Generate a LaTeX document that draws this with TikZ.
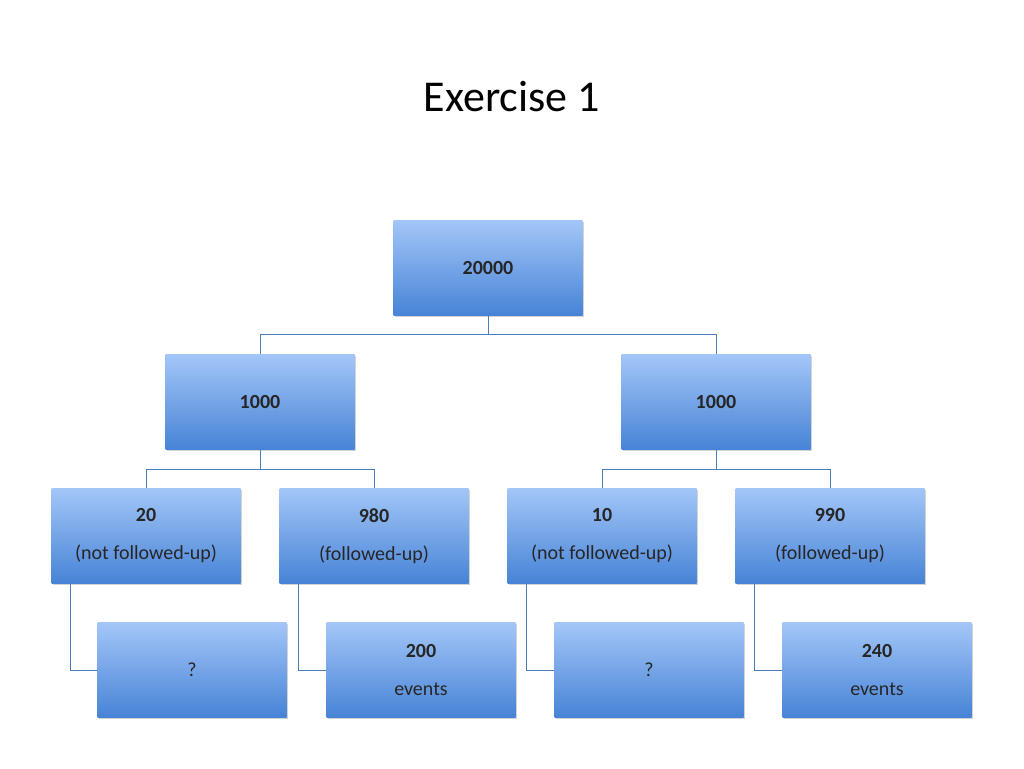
\documentclass[tikz,border=0pt]{standalone}
\usepackage{fontspec}
\setmainfont{Carlito}
\usetikzlibrary{shadows}
\definecolor{btop}{HTML}{A3C6F8}
\definecolor{bbot}{HTML}{4783D6}
\definecolor{lnk}{HTML}{4A7EBB}
\tikzset{
 box/.style={minimum width=189pt,minimum height=95pt,top color=btop,bottom color=bbot,draw=none,
  drop shadow={shadow xshift=1.5pt,shadow yshift=-1.5pt,opacity=0.35},align=center,font=\fontsize{20}{38}\selectfont,text=black!85},
 conn/.style={draw=lnk,line width=0.9pt}
}
\begin{document}
\begin{tikzpicture}[x=1pt,y=-1pt]
\useasboundingbox (0,0) rectangle (1024,768);
\node[font=\fontsize{44}{50}\selectfont] (title) at (512,97) {Exercise 1};
\node[box,font=\fontsize{20}{38}\selectfont\bfseries] (r) at (488,268) {20000};
\node[box,font=\fontsize{20}{38}\selectfont\bfseries] (a) at (260,402) {1000};
\node[box,font=\fontsize{20}{38}\selectfont\bfseries] (b) at (716,402) {1000};
\node[box] (a1) at (146,536) {\textbf{20}\\(not followed-up)};
\node[box] (a2) at (374,536) {\textbf{980}\\(followed-up)};
\node[box] (b1) at (602,536) {\textbf{10}\\(not followed-up)};
\node[box] (b2) at (830,536) {\textbf{990}\\(followed-up)};
\node[box] (c1) at (192,670) {?};
\node[box] (c2) at (421,670) {\textbf{200}\\events};
\node[box] (c3) at (649,670) {?};
\node[box] (c4) at (877,670) {\textbf{240}\\events};
\draw[conn] (r.south) -- ++(0,19) -| (a.north);
\draw[conn] (r.south) -- ++(0,19) -| (b.north);
\draw[conn] (a.south) -- ++(0,20) -| (a1.north);
\draw[conn] (a.south) -- ++(0,20) -| (a2.north);
\draw[conn] (b.south) -- ++(0,20) -| (b1.north);
\draw[conn] (b.south) -- ++(0,20) -| (b2.north);
\draw[conn] ([xshift=19pt]a1.south west) |- (c1.west);
\draw[conn] ([xshift=19pt]a2.south west) |- (c2.west);
\draw[conn] ([xshift=19pt]b1.south west) |- (c3.west);
\draw[conn] ([xshift=19pt]b2.south west) |- (c4.west);
\end{tikzpicture}
\end{document}
